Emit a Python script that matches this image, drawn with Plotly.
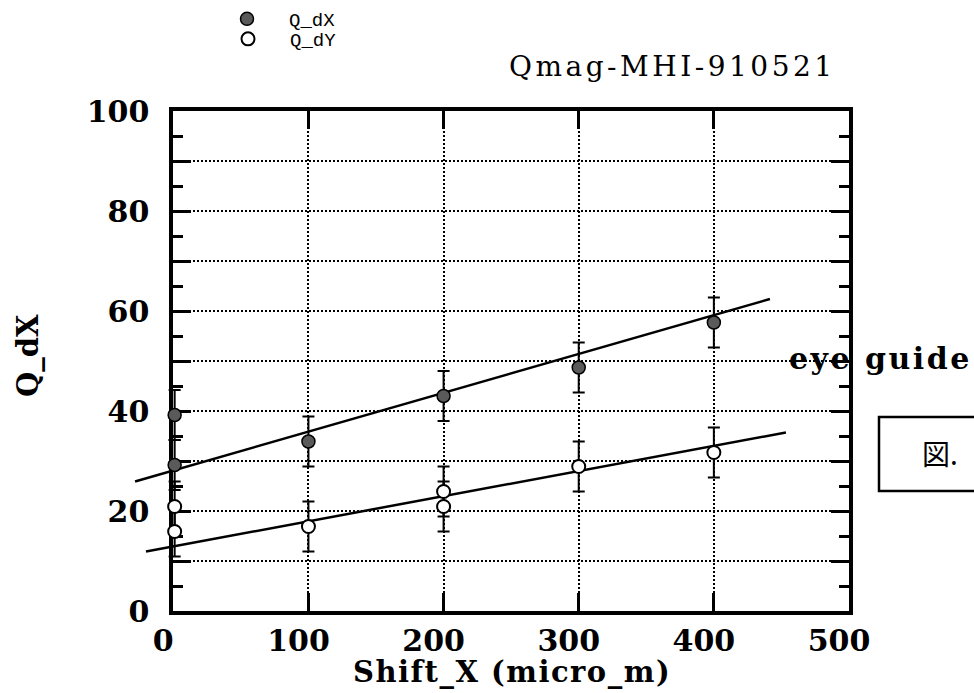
import plotly.graph_objects as go

# ---------------- data ----------------
dx_x = [1, 1, 100, 200, 300, 400]
dx_y = [39.2, 29.2, 33.9, 43.0, 48.7, 57.7]
dx_err = [5, 5, 5, 5, 5, 5]

dy_x = [1, 1, 100, 200, 200, 300, 400]
dy_y = [20.9, 15.9, 16.9, 23.9, 20.9, 28.9, 31.7]
dy_err = [5, 5, 5, 5, 5, 5, 5]

guide_dx_x = [-28.3, 441.5]
guide_dx_y = [25.9, 62.4]
guide_dy_x = [-20.2, 453.3]
guide_dy_y = [11.9, 35.7]

x_ticks = [0, 100, 200, 300, 400, 500]
x_ticktext = ["0", "100", "200", "300", "400", "500"]
y_ticks = [0, 10, 20, 30, 40, 50, 60, 70, 80, 90, 100]
y_ticktext = ["0", "", "20", "", "40", "", "60", "", "80", "", "100"]

x_range = [0, 500]
y_range = [0, 100]

# ---------------- layout geometry ----------------
W, H = 974, 693
xd = [173.3 / W, 849 / W]
yd = [(H - 611) / H, (H - 111) / H]


def full_range(r, d):
    span = (r[1] - r[0]) / (d[1] - d[0])
    return [r[0] - d[0] * span, r[1] + (1 - d[1]) * span]


x2_range = full_range(x_range, xd)
y2_range = full_range(y_range, yd)

BOLD = "DejaVu Serif"
LEG_FONT = dict(family="Liberation Mono", size=19, color="black")

fig = go.Figure()

# placeholder so the framed axes are drawn
fig.add_trace(go.Scatter(x=[None], y=[None], mode="markers", xaxis="x", yaxis="y",
                         showlegend=False, hoverinfo="skip"))

# eye-guide lines
fig.add_trace(go.Scatter(x=guide_dx_x, y=guide_dx_y, mode="lines",
                         line=dict(color="black", width=2.5),
                         xaxis="x2", yaxis="y2", showlegend=False, hoverinfo="skip"))
fig.add_trace(go.Scatter(x=guide_dy_x, y=guide_dy_y, mode="lines",
                         line=dict(color="black", width=2.5),
                         xaxis="x2", yaxis="y2", showlegend=False, hoverinfo="skip"))

fig.add_trace(go.Scatter(
    x=dx_x, y=dx_y, mode="markers", name="Q_dX", legend="legend",
    marker=dict(symbol="circle", size=13, color="#5a5a5a",
                line=dict(color="black", width=1.5)),
    error_y=dict(type="data", array=dx_err, color="black", thickness=2, width=6),
    xaxis="x2", yaxis="y2"))
fig.add_trace(go.Scatter(
    x=dy_x, y=dy_y, mode="markers", name="Q_dY", legend="legend2",
    marker=dict(symbol="circle", size=13, color="white",
                line=dict(color="black", width=2)),
    error_y=dict(type="data", array=dy_err, color="black", thickness=2, width=6),
    xaxis="x2", yaxis="y2"))

axis_common = dict(
    showline=True, linecolor="black", linewidth=4, mirror="ticks",
    ticks="inside", ticklen=18, tickwidth=3, tickcolor="black",
    showgrid=True, gridcolor="black", gridwidth=2, griddash="2px,2px",
    zeroline=False, tickfont=dict(family=BOLD, size=30, color="black", weight="bold"),
)

fig.update_layout(
    width=W, height=H,
    margin=dict(l=0, r=0, t=0, b=0, autoexpand=False),
    paper_bgcolor="white", plot_bgcolor="rgba(0,0,0,0)",
    xaxis=dict(domain=xd, range=x_range, anchor="y", tickmode="array",
               tickvals=x_ticks, ticktext=x_ticktext, ticklabelshift=-10,
               ticklabelstandoff=0, automargin=False, **axis_common),
    yaxis=dict(domain=yd, range=y_range, anchor="x", tickmode="array",
               tickvals=y_ticks, ticktext=y_ticktext, ticklabelstandoff=14,
               automargin=False,
               minor=dict(dtick=5, tick0=0, ticks="inside", ticklen=10,
                          tickwidth=3, tickcolor="black", showgrid=False),
               **axis_common),
    xaxis2=dict(domain=[0, 1], range=x2_range, anchor="y2", visible=False),
    yaxis2=dict(domain=[0, 1], range=y2_range, anchor="x2", visible=False),
    showlegend=True,
    legend=dict(x=205 / W, y=1 - 19 / H, xanchor="left", yanchor="middle",
                bgcolor="rgba(0,0,0,0)", borderwidth=0, font=LEG_FONT,
                itemwidth=74),
    legend2=dict(x=206 / W, y=1 - 39 / H, xanchor="left", yanchor="middle",
                 bgcolor="rgba(0,0,0,0)", borderwidth=0, font=LEG_FONT,
                 itemwidth=74),
)

annotations = [
    dict(text='<span style="letter-spacing:3.5px">Qmag-MHI-910521</span>',
         x=507 / W, y=1 - 66 / H, xanchor="left", yanchor="middle",
         font=dict(family="DejaVu Serif", size=28, color="black")),
    dict(text='<b><span style="letter-spacing:2.5px">eye guide</span></b>',
         x=787 / W, y=1 - 358 / H, xanchor="left",
         yanchor="middle", font=dict(family=BOLD, size=30, color="black")),
    dict(text="図.", x=940 / W, y=1 - 453 / H, xanchor="center", yanchor="middle",
         font=dict(family="Noto Sans CJK JP", size=28, color="black")),
    dict(text='<b><span style="letter-spacing:1.5px">Shift_X (micro_m)</span></b>',
         x=512 / W, y=1 - 672 / H, xanchor="center", yanchor="middle",
         font=dict(family=BOLD, size=29, color="black")),
    dict(text="<b>Q_dX</b>", x=28 / W, y=1 - 356 / H, xanchor="center",
         yanchor="middle", textangle=-90,
         font=dict(family=BOLD, size=29, color="black")),
]
for a in annotations:
    a.update(xref="paper", yref="paper", showarrow=False)
fig.update_layout(annotations=annotations)

fig.add_shape(type="rect", xref="paper", yref="paper",
              x0=879 / W, x1=1.05, y0=1 - 491 / H, y1=1 - 417 / H,
              line=dict(color="black", width=2.5), fillcolor="rgba(0,0,0,0)")

fig.write_html("out.html")
